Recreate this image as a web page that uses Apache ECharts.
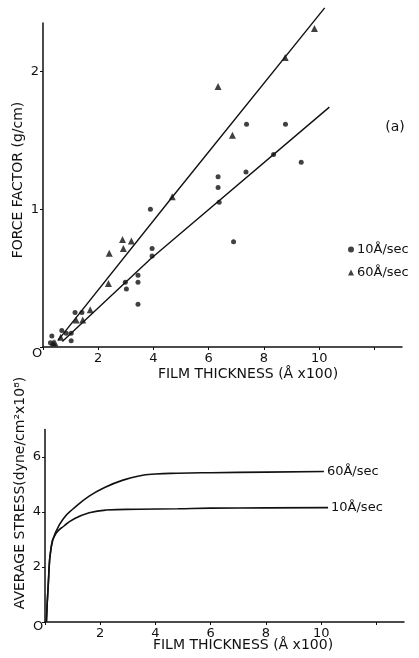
<!DOCTYPE html>
<html>
<head>
<meta charset="utf-8">
<script src="https://cdn.jsdelivr.net/npm/echarts@6/dist/echarts.min.js"></script>
<style>
  html, body { margin: 0; padding: 0; background: #fff; }
  #main { width: 419px; height: 658px; }
</style>
</head>
<body>
<div id="main"></div>
<script>
// (a) force factor vs film thickness
var dots10 = [
  [0.27, 0.03], [0.32, 0.08], [0.68, 0.12], [0.84, 0.10], [1.02, 0.10], [1.02, 0.046],
  [1.16, 0.25], [1.41, 0.25], [2.98, 0.47], [3.02, 0.42], [3.44, 0.52], [3.44, 0.47],
  [3.44, 0.31], [3.89, 1.0], [3.95, 0.715], [3.95, 0.66], [6.34, 1.234], [6.34, 1.157],
  [6.38, 1.05], [6.9, 0.763], [7.35, 1.27], [7.37, 1.616], [8.35, 1.396], [8.78, 1.616],
  [9.35, 1.34]
];
var tri60 = [
  [0.37, 0.03], [0.43, 0.03], [0.64, 0.07], [1.2, 0.196], [1.44, 0.196], [1.71, 0.27],
  [2.37, 0.46], [2.4, 0.68], [2.88, 0.78], [2.91, 0.715], [3.2, 0.768], [4.68, 1.09],
  [6.34, 1.89], [6.86, 1.536], [8.77, 2.10], [9.83, 2.31]
];
var fit10 = [[0.7, 0.04], [3.9, 0.64], [10.37, 1.74]];
var fit60 = [[0.55, 0.05], [4.69, 1.09], [10.2, 2.46]];

// (b) average stress vs film thickness
var stress60 = [
  [0.05, 0], [0.12, 1.4], [0.22, 2.7], [0.4, 3.3], [0.7, 3.8], [1.0, 4.1],
  [1.6, 4.58], [2.2, 4.91], [2.8, 5.15], [3.4, 5.31], [4.0, 5.38], [4.8, 5.41],
  [6, 5.43], [8, 5.45], [10.1, 5.47]
];
var stress10 = [
  [0.05, 0], [0.12, 1.4], [0.22, 2.7], [0.4, 3.22], [0.7, 3.5], [1.0, 3.72],
  [1.6, 3.97], [2.2, 4.07], [3.4, 4.1], [4.8, 4.12], [6, 4.14], [8, 4.15], [10.25, 4.16]
];

var xTicks = [2, 4, 6, 8, 10];
var yTicksTop = [1, 2];
var yTicksBottom = [2, 4, 6];

var ink = '#111';
var font = 'DejaVu Sans';

function xAxisCfg(idx) {
  return {
    type: 'value', gridIndex: idx, min: 0, max: 13, interval: 2,
    axisLine: { lineStyle: { color: ink, width: 1.5 } },
    axisTick: { show: true, length: 3, lineStyle: { color: ink } },
    splitLine: { show: false },
    axisLabel: {
      color: ink, fontFamily: font, fontSize: 13, margin: 5,
      showMaxLabel: false,
      formatter: function (v) { return xTicks.indexOf(v) >= 0 ? String(v) : ''; }
    }
  };
}

function yAxisCfg(idx, max, interval, ticks) {
  return {
    type: 'value', gridIndex: idx, min: 0, max: max, interval: interval,
    axisLine: { show: true, lineStyle: { color: ink, width: 1.5 } },
    axisTick: { show: true, length: 3, lineStyle: { color: ink } },
    splitLine: { show: false },
    axisLabel: {
      color: ink, fontFamily: font, fontSize: 13, margin: 4,
      showMaxLabel: false,
      formatter: function (v) { return ticks.indexOf(v) >= 0 ? String(v) : ''; }
    }
  };
}

var chart = echarts.init(document.getElementById('main'));
var option = {
  backgroundColor: '#fff',
  animation: false,
  grid: [
    { left: 43, top: 23, width: 359, height: 324 },
    { left: 45, top: 429.5, width: 359, height: 192.5 }
  ],
  xAxis: [xAxisCfg(0), xAxisCfg(1)],
  yAxis: [yAxisCfg(0, 2.35, 1, yTicksTop), yAxisCfg(1, 7, 2, yTicksBottom)],
  legend: {
    data: [
      { name: '10Å/sec', itemStyle: { color: ink } },
      { name: '60Å/sec', itemStyle: { color: ink } }
    ],
    orient: 'vertical', left: 343, top: 238,
    itemWidth: 6, itemHeight: 6, itemGap: 10,
    textStyle: { color: ink, fontFamily: font, fontSize: 13, padding: [0, 0, 0, -2] }
  },
  graphic: [
    { type: 'text', x: 37, y: 354, style: { text: 'O', fill: ink, font: '13px DejaVu Sans', textAlign: 'center', textVerticalAlign: 'middle' } },
    { type: 'text', x: 38, y: 627, style: { text: 'O', fill: ink, font: '13px DejaVu Sans', textAlign: 'center', textVerticalAlign: 'middle' } },
    { type: 'text', x: 395, y: 127, style: { text: '(a)', fill: ink, font: '14px DejaVu Sans', textAlign: 'center', textVerticalAlign: 'middle' } },
    { type: 'text', x: 248, y: 374, style: { text: 'FILM THICKNESS (Å x100)', fill: ink, font: '14px DejaVu Sans', textAlign: 'center', textVerticalAlign: 'middle' } },
    { type: 'text', x: 243, y: 645, style: { text: 'FILM THICKNESS (Å x100)', fill: ink, font: '14px DejaVu Sans', textAlign: 'center', textVerticalAlign: 'middle' } },
    { type: 'text', x: 18, y: 180, rotation: Math.PI / 2, style: { text: 'FORCE FACTOR (g/cm)', fill: ink, font: '14px DejaVu Sans', textAlign: 'center', textVerticalAlign: 'middle' } },
    { type: 'text', x: 20, y: 493, rotation: Math.PI / 2, style: { text: 'AVERAGE STRESS(dyne/cm²x10⁸)', fill: ink, font: '14px DejaVu Sans', textAlign: 'center', textVerticalAlign: 'middle' } }
  ],
  series: [
    {
      name: '10Å/sec', type: 'scatter', xAxisIndex: 0, yAxisIndex: 0,
      symbol: 'circle', symbolSize: 5, itemStyle: { color: ink }, data: dots10
    },
    {
      name: '60Å/sec', type: 'scatter', xAxisIndex: 0, yAxisIndex: 0,
      symbol: 'triangle', symbolSize: 7, itemStyle: { color: ink }, data: tri60
    },
    {
      name: 'fit 10', type: 'line', xAxisIndex: 0, yAxisIndex: 0, clip: false,
      showSymbol: false, lineStyle: { color: ink, width: 1.4 }, data: fit10
    },
    {
      name: 'fit 60', type: 'line', xAxisIndex: 0, yAxisIndex: 0, clip: false,
      showSymbol: false, lineStyle: { color: ink, width: 1.4 }, data: fit60
    },
    {
      name: 'stress 60', type: 'line', xAxisIndex: 1, yAxisIndex: 1, smooth: 0.5,
      showSymbol: false, lineStyle: { color: ink, width: 1.6 }, data: stress60,
      endLabel: { show: true, formatter: '60Å/sec', color: ink, fontFamily: font, fontSize: 13, distance: 3 }
    },
    {
      name: 'stress 10', type: 'line', xAxisIndex: 1, yAxisIndex: 1, smooth: 0.5,
      showSymbol: false, lineStyle: { color: ink, width: 1.6 }, data: stress10,
      endLabel: { show: true, formatter: '10Å/sec', color: ink, fontFamily: font, fontSize: 13, distance: 3 }
    }
  ]
};

chart.setOption(option);
window.onresize = chart.resize;
</script>
</body>
</html>
